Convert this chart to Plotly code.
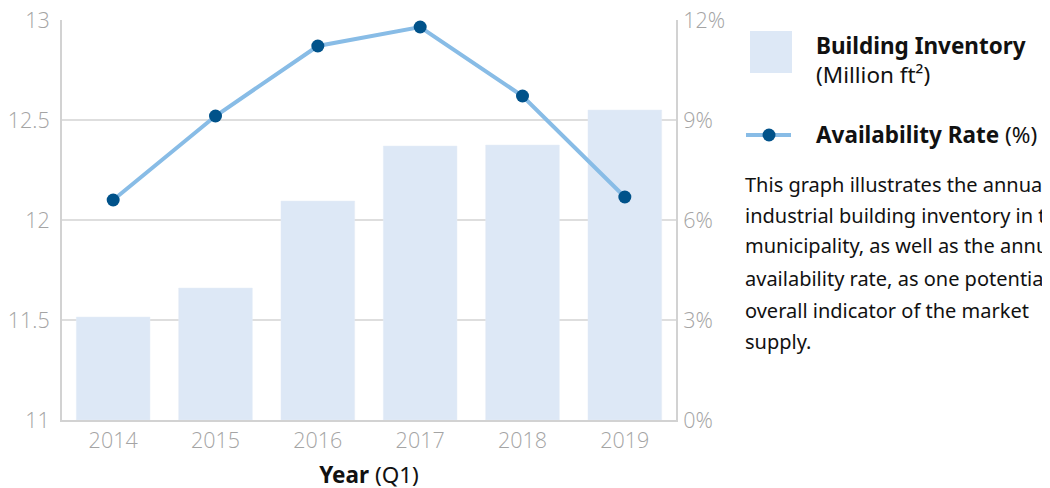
import plotly.graph_objects as go

years = ["2014", "2015", "2016", "2017", "2018", "2019"]
inventory = [11.515, 11.66, 12.095, 12.37, 12.375, 12.55]
availability = [6.6, 9.12, 11.22, 11.79, 9.72, 6.69]
left_ticks = [11, 11.5, 12, 12.5, 13]
left_labels = ["11", "11.5", "12", "12.5", "13"]
right_ticks = [0, 3, 6, 9, 12]
right_labels = ["0%", "3%", "6%", "9%", "12%"]
paragraph = [
    "This graph illustrates the annual",
    "industrial building inventory in the",
    "municipality, as well as the annual",
    "availability rate, as one potential",
    "overall indicator of the market",
    "supply.",
]

BAR = "#dde8f6"
LINE = "#88bce6"
MARK = "#00528a"
GRID = "#dedede"
AX = "#d2d2d2"
TICK = "#a4a4a4"
TFONT = "Open Sans"
LFONT = "Noto Sans"

W, H = 1050, 488
OFF = 8  # page body margin
ML, MT = 62 - OFF, 20 - OFF
MR, MB = W - (676 - OFF), H - (420 - OFF)
PW = W - ML - MR
PH = H - MT - MB


def px(x):
    return (x - OFF - ML) / PW


def py(y):
    return (H - MB - (y - OFF)) / PH


fig = go.Figure()
fig.add_bar(x=years, y=[v - 11 for v in inventory], base=11,
            marker_color=BAR, width=0.72, yaxis="y", showlegend=False)
fig.add_scatter(x=years, y=availability, yaxis="y2", mode="lines+markers",
                line=dict(color=LINE, width=4),
                marker=dict(color=MARK, size=13), showlegend=False)

tf = dict(family=TFONT, size=21.5, color=TICK, weight=300)
fig.update_layout(
    width=W, height=H,
    margin=dict(l=ML, r=MR, t=MT, b=MB, autoexpand=False),
    plot_bgcolor="white", paper_bgcolor="white",
    xaxis=dict(
        automargin=False, ticklabeloverflow="allow",
        showline=True, linecolor=AX, linewidth=2, showgrid=False,
        tickfont=tf, ticks="", ticklabelstandoff=0,
        title=dict(text="<b>Year</b> (Q1)", standoff=14,
                   font=dict(family=LFONT, size=22.5, color="#111")),
    ),
    yaxis=dict(
        automargin=False, ticklabeloverflow="allow",
        range=[11, 13], tickvals=left_ticks, ticktext=left_labels,
        showline=True, linecolor=AX, linewidth=2,
        showgrid=True, gridcolor=GRID, gridwidth=2, zeroline=False,
        tickfont=tf, ticks="", ticklabelstandoff=6,
    ),
    yaxis2=dict(
        automargin=False, ticklabeloverflow="allow",
        range=[0, 12], tickvals=right_ticks, ticktext=right_labels,
        overlaying="y", side="right", anchor="x",
        showline=True, linecolor=AX, linewidth=2,
        showgrid=False, zeroline=False,
        tickfont=tf, ticks="", ticklabelstandoff=1,
    ),
)

shapes = [
    dict(type="rect", xref="paper", yref="paper", x0=px(750), x1=px(792),
         y0=py(73), y1=py(31), fillcolor=BAR, line_width=0),
    dict(type="line", xref="paper", yref="paper", x0=px(746), x1=px(791),
         y0=py(135), y1=py(135), line=dict(color=LINE, width=4)),
    dict(type="circle", xref="paper", yref="paper", x0=px(762.5), x1=px(775.5),
         y0=py(141.5), y1=py(128.5), fillcolor=MARK, line_width=0),
]
fig.update_layout(shapes=shapes)

ann = [
    dict(text="<b>Building Inventory</b>", x=px(814), y=py(45)),
    dict(text="(Million ft²)", x=px(814), y=py(75)),
    dict(text="<b>Availability Rate</b> (%)", x=px(814), y=py(134)),
]
for a in ann:
    a.update(xref="paper", yref="paper", xanchor="left", yanchor="middle",
             showarrow=False, font=dict(family=LFONT, size=22.5, color="#111"))
    fig.add_annotation(**a)

ys = [184, 215, 246, 278, 310, 341]
for t, y in zip(paragraph, ys):
    fig.add_annotation(text=t, x=px(743), y=py(y), xref="paper", yref="paper",
                       xanchor="left", yanchor="middle", showarrow=False,
                       font=dict(family=LFONT, size=20, color="#111"))

fig.write_html("out.html")
